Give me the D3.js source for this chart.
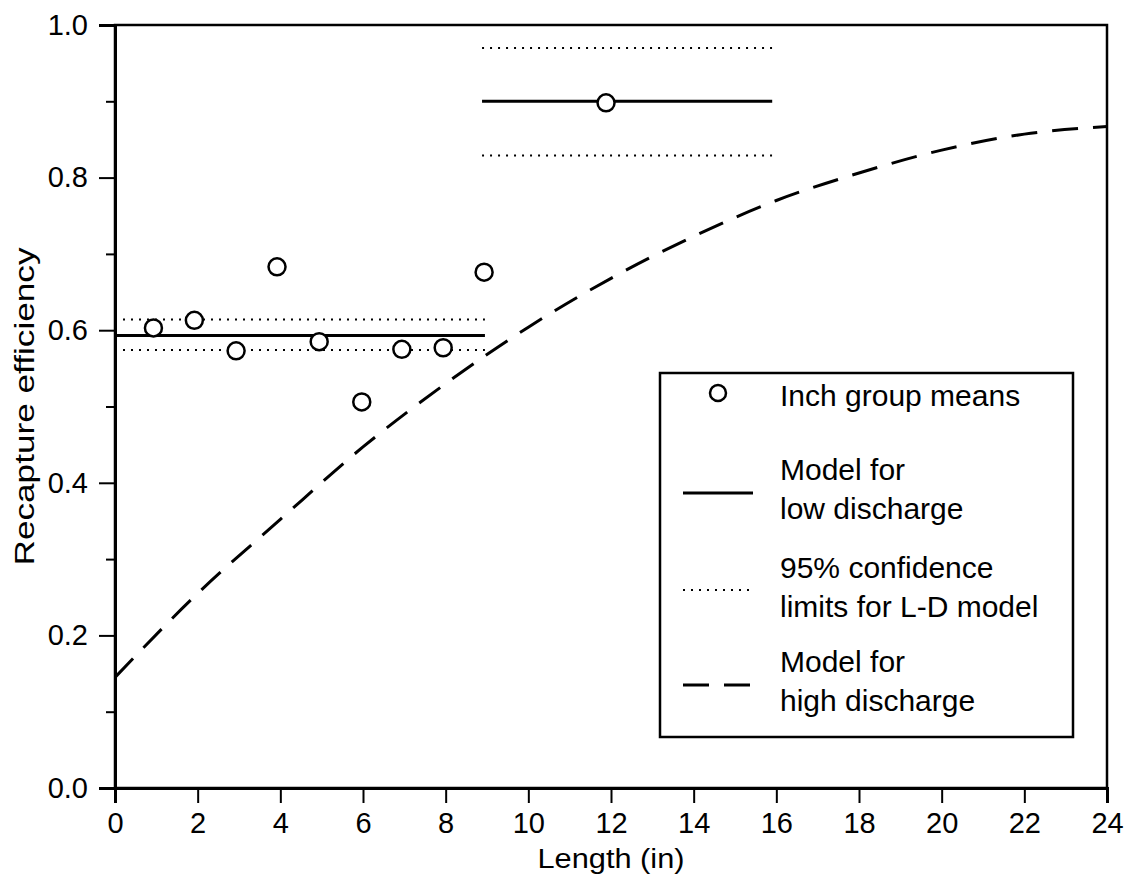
<!DOCTYPE html>
<html>
<head>
<meta charset="utf-8">
<script src="https://cdn.jsdelivr.net/npm/d3@7"></script>
<style>
  body { margin: 0; background: #fff; }
  svg { display: block; font-family: "Liberation Sans", Arial, Helvetica, sans-serif; }
</style>
</head>
<body>
<div id="chart"></div>
<script>
// inch group means (x read slightly left of the integer inch, as plotted)
const meanLength = [0.93, 1.92, 2.93, 3.92, 4.94, 5.97, 6.94, 7.94, 8.93, 11.88];
const meanEfficiency = [0.603, 0.613, 0.573, 0.683, 0.585, 0.506, 0.575, 0.577, 0.676, 0.898];

// L-D model segments: low length group and high length group
const segStart = [0, 8.88];
const segEnd = [8.95, 15.9];
const segFit = [0.593, 0.900];
const segLower = [0.574, 0.829];
const segUpper = [0.614, 0.970];

// high discharge model curve
const highLength = [0, 2, 4, 6, 8, 10, 12, 14, 16, 18, 20, 22, 24];
const highEfficiency = [0.145, 0.255, 0.352, 0.447, 0.530, 0.604, 0.668, 0.723, 0.770, 0.806, 0.836, 0.857, 0.867];

const xTicks = [0, 2, 4, 6, 8, 10, 12, 14, 16, 18, 20, 22, 24];
const yTicks = [0, 0.2, 0.4, 0.6, 0.8, 1.0];
const yMinorTicks = [0.1, 0.3, 0.5, 0.7, 0.9];

const legendLabels = [
    ["Inch group means"],
    ["Model for", "low discharge"],
    ["95% confidence", "limits for L-D model"],
    ["Model for", "high discharge"]
];

const width = 1133, height = 881;
const margin = { top: 25, right: 26, bottom: 93, left: 115 };
const tickFont = 29;
const legendFont = 30;

const svg = d3.select("#chart").append("svg")
    .attr("width", width)
    .attr("height", height);

svg.append("rect").attr("width", width).attr("height", height).attr("fill", "#fff");

const x = d3.scaleLinear().domain([0, 24]).range([margin.left, width - margin.right]);
const y = d3.scaleLinear().domain([0, 1]).range([height - margin.bottom, margin.top]);

// frame
svg.append("rect")
    .attr("x", x(0)).attr("y", y(1))
    .attr("width", x(24) - x(0)).attr("height", y(0) - y(1))
    .attr("fill", "none")
    .attr("stroke", "#000")
    .attr("stroke-width", 2.5);

// axes
svg.append("g")
    .attr("transform", `translate(${x(0)},0)`)
    .call(d3.axisLeft(y).tickValues(yTicks).tickFormat(d3.format(".1f")).tickSize(16).tickPadding(11));
svg.append("g")
    .attr("transform", `translate(${x(0)},0)`)
    .call(d3.axisLeft(y).tickValues(yMinorTicks).tickFormat("").tickSize(9));

svg.append("g")
    .attr("transform", `translate(0,${y(0)})`)
    .call(d3.axisBottom(x).tickValues(xTicks).tickFormat(d3.format("d")).tickSize(15).tickPadding(9));

svg.selectAll(".domain").attr("stroke-width", 3);
svg.selectAll(".tick line").attr("stroke-width", 2);
svg.selectAll(".tick text")
    .attr("font-size", tickFont)
    .attr("font-family", "Liberation Sans, Arial, sans-serif")
    .attr("fill", "#000");

// axis titles (the scan is stretched, so fit them to their measured length)
svg.append("text")
    .attr("x", (x(0) + x(24)) / 2)
    .attr("y", 868)
    .attr("text-anchor", "middle")
    .attr("font-size", 27)
    .attr("textLength", 147)
    .attr("lengthAdjust", "spacingAndGlyphs")
    .text("Length (in)");

svg.append("text")
    .attr("transform", `translate(34,${(y(0) + y(1)) / 2}) rotate(-90)`)
    .attr("text-anchor", "middle")
    .attr("font-size", 27)
    .attr("textLength", 318)
    .attr("lengthAdjust", "spacingAndGlyphs")
    .text("Recapture efficiency");

const plot = svg.append("g");

// high discharge model (dashed)
const line = d3.line()
    .x((d, i) => x(highLength[i]))
    .y(d => y(d))
    .curve(d3.curveMonotoneX);

plot.append("path")
    .datum(highEfficiency)
    .attr("d", line)
    .attr("fill", "none")
    .attr("stroke", "#000")
    .attr("stroke-width", 3)
    .attr("stroke-dasharray", "26,15");

// model segments and confidence limits
const segs = segStart.map((s, i) => ({ x0: s, x1: segEnd[i], fit: segFit[i], lo: segLower[i], hi: segUpper[i] }));

plot.selectAll(".fit")
    .data(segs)
    .enter()
    .append("line")
    .attr("class", "fit")
    .attr("x1", d => x(d.x0)).attr("x2", d => x(d.x1))
    .attr("y1", d => y(d.fit)).attr("y2", d => y(d.fit))
    .attr("stroke", "#000")
    .attr("stroke-width", 3);

["lo", "hi"].forEach(k => {
    plot.selectAll(".ci-" + k)
        .data(segs)
        .enter()
        .append("line")
        .attr("class", "ci-" + k)
        .attr("x1", d => x(d.x0)).attr("x2", d => x(d.x1))
        .attr("y1", d => y(d[k])).attr("y2", d => y(d[k]))
        .attr("stroke", "#000")
        .attr("stroke-width", 2)
        .attr("stroke-dasharray", "2,6");
});

// group means
plot.selectAll(".mean")
    .data(meanEfficiency)
    .enter()
    .append("circle")
    .attr("class", "mean")
    .attr("cx", (d, i) => x(meanLength[i]))
    .attr("cy", d => y(d))
    .attr("r", 8.5)
    .attr("fill", "#fff")
    .attr("stroke", "#000")
    .attr("stroke-width", 2.5);

// legend
const legend = svg.append("g");
legend.append("rect")
    .attr("x", 660).attr("y", 373)
    .attr("width", 413).attr("height", 364)
    .attr("fill", "#fff")
    .attr("stroke", "#000")
    .attr("stroke-width", 2.5);

const rowY = [393, 493, 590, 685];
const firstBaseline = [406, 480, 578, 672];

legend.append("circle")
    .attr("cx", 718).attr("cy", rowY[0]).attr("r", 8)
    .attr("fill", "#fff").attr("stroke", "#000").attr("stroke-width", 2.5);

const sampleStyles = [null, "none", "2,6", "26,15"];
[1, 2, 3].forEach(i => {
    legend.append("line")
        .attr("x1", 683).attr("x2", i === 3 ? 754 : 753)
        .attr("y1", rowY[i]).attr("y2", rowY[i])
        .attr("stroke", "#000")
        .attr("stroke-width", i === 2 ? 2 : 3)
        .attr("stroke-dasharray", sampleStyles[i]);
});

legendLabels.forEach((lines, i) => {
    const t = legend.append("text")
        .attr("x", 780)
        .attr("y", firstBaseline[i])
        .attr("font-size", legendFont);
    lines.forEach((s, j) => {
        t.append("tspan")
            .attr("x", 780)
            .attr("dy", j === 0 ? 0 : 39)
            .text(s);
    });
});
</script>
</body>
</html>
